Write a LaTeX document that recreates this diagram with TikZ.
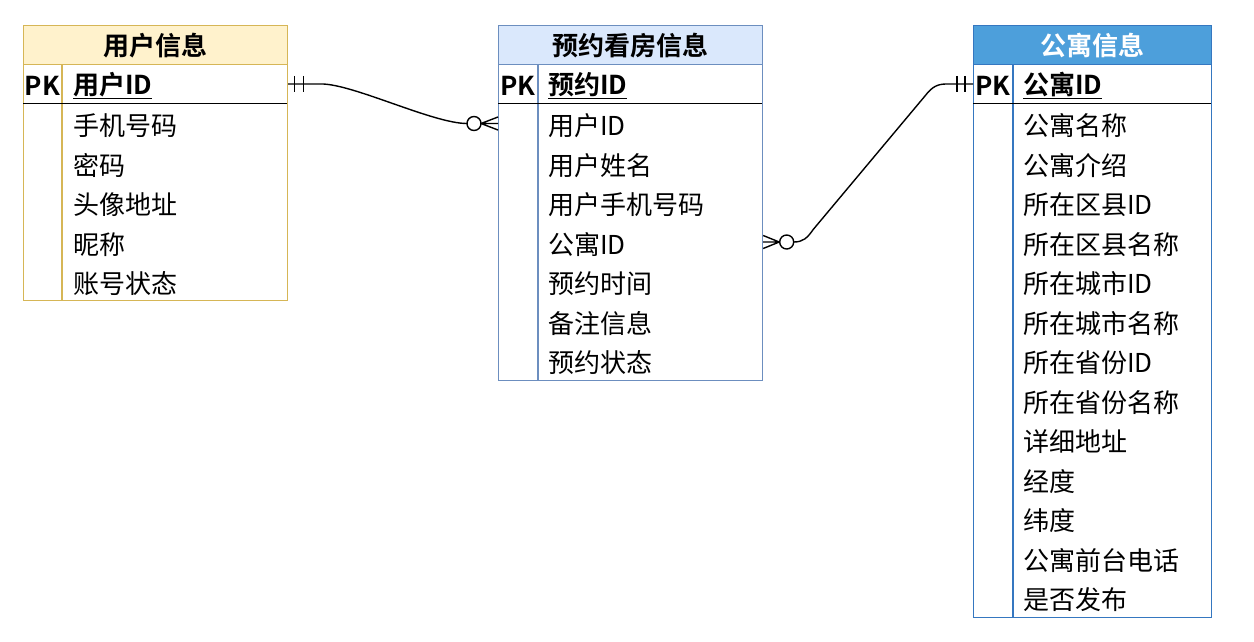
\documentclass[tikz,border=0pt]{standalone}
\usepackage{fontspec}
\setmainfont{Noto Sans CJK SC}[BoldFont={Noto Sans CJK SC Bold}]
\usetikzlibrary{calc}
\definecolor{yfill}{HTML}{FFF2CC}
\definecolor{ydraw}{HTML}{D6B656}
\definecolor{bfill}{HTML}{DAE8FC}
\definecolor{bdraw}{HTML}{6C8EBF}
\definecolor{dfill}{HTML}{4D9FDB}
\definecolor{ddraw}{HTML}{3577C0}
\tikzset{
  tbl/.style={line width=1.2pt, inner sep=0pt, anchor=north west},
  hdr/.style={line width=1.2pt, inner sep=0pt, anchor=north west, minimum height=39pt, font=\fontsize{26}{30}\selectfont\bfseries},
  pkrow/.style={inner sep=0pt, anchor=north west, minimum height=39.5pt},
  pkst/.style={inner sep=0pt, font=\fontsize{26}{30}\selectfont\bfseries},
  keyst/.style={inner sep=0pt, anchor=west, font=\fontsize{26}{30}\selectfont\bfseries},
  fld/.style={inner sep=0pt, anchor=west, font=\fontsize{26}{30}\selectfont},
  rel/.style={line width=1.4pt, black},
  sepline/.style={line width=1.4pt, black},
}
\begin{document}
\begin{tikzpicture}[x=1pt,y=-1pt]
\fill[white] (0,0) rectangle (1254,641);
\useasboundingbox (0,0) rectangle (1254,641);

% ---------- table 1 ----------
\node[tbl, draw=ydraw, minimum width=264pt, minimum height=275pt] (user) at (23,25) {};
\node[hdr, fill=yfill, draw=ydraw, minimum width=264pt] (user-h) at (23,25) {用户信息};
\node[pkrow, minimum width=264pt] (user-pk) at (23,64) {};
\draw[ydraw, line width=1.2pt] (62,64) -- (62,300);
\draw[sepline] (23,103.5) -- (287,103.5);
\node[pkst] (user-pkl) at (42.5,85.5) {PK};
\node[keyst] (user-pkn) at (73,85.5) {\underline{用户ID}};
\foreach \t [count=\i from 0] in {手机号码,密码,头像地址,昵称,账号状态}
  \node[fld] (u-r\i) at (73,{126+39.5*\i}) {\t};

% ---------- table 2 ----------
\node[tbl, draw=bdraw, minimum width=264pt, minimum height=355pt] (book) at (498,25) {};
\node[hdr, fill=bfill, draw=bdraw, minimum width=264pt] (book-h) at (498,25) {预约看房信息};
\node[pkrow, minimum width=264pt] (book-pk) at (498,64) {};
\draw[bdraw, line width=1.2pt] (538,64) -- (538,380);
\draw[sepline] (498,103.5) -- (762,103.5);
\node[pkst] (book-pkl) at (518,85.5) {PK};
\node[keyst] (book-pkn) at (548,85.5) {\underline{预约ID}};
\foreach \t [count=\i from 0] in {用户ID,用户姓名,用户手机号码,公寓ID,预约时间,备注信息,预约状态}
  \node[fld] (b-r\i) at (548,{126+39.5*\i}) {\t};

% ---------- table 3 ----------
\node[tbl, draw=ddraw, minimum width=238pt, minimum height=592pt] (apt) at (973,25) {};
\node[hdr, fill=dfill, draw=ddraw, text=white, minimum width=238pt] (apt-h) at (973,25) {公寓信息};
\node[pkrow, minimum width=238pt] (apt-pk) at (973,64) {};
\draw[ddraw, line width=1.2pt] (1013,64) -- (1013,617);
\draw[sepline] (973,103.5) -- (1211,103.5);
\node[pkst] (apt-pkl) at (993,85.5) {PK};
\node[keyst] (apt-pkn) at (1023,85.5) {\underline{公寓ID}};
\foreach \t [count=\i from 0] in {公寓名称,公寓介绍,所在区县ID,所在区县名称,所在城市ID,所在城市名称,所在省份ID,所在省份名称,详细地址,经度,纬度,公寓前台电话,是否发布}
  \node[fld] (a-r\i) at (1023,{126+39.5*\i}) {\t};

% ---------- connector 1: user (1) -- (0..n) booking ----------
\path (user.east |- user-pk) coordinate (p1)
      ([yshift=2.5pt]book.west |- b-r0) coordinate (p2);
\draw[rel] (p1) -- ($(p1)+(33,0)$) .. controls ($(p1)+(65,0)$) and ($(p2)+(-65,0)$) .. ($(p2)+(-31,0)$);
\draw[rel] ($(p1)+(6,-8)$) -- ($(p1)+(6,8)$);
\draw[rel] ($(p1)+(15,-8)$) -- ($(p1)+(15,8)$);
\draw[rel, fill=white] ($(p2)+(-24,0)$) circle (7pt);
\draw[rel] ($(p2)+(-17,0)$) -- ($(p2)+(0,-6.5)$)
           ($(p2)+(-17,0)$) -- (p2)
           ($(p2)+(-17,0)$) -- ($(p2)+(0,6.5)$);

% ---------- connector 2: booking (0..n) -- (1) apartment ----------
\path ([yshift=2.5pt]book.east |- b-r3) coordinate (p3)
      (apt.west |- apt-pk) coordinate (p4);
\draw[rel] ($(p3)+(16,0)$) -- ($(p3)+(0,-6.5)$)
           ($(p3)+(16,0)$) -- (p3)
           ($(p3)+(16,0)$) -- ($(p3)+(0,6.5)$);
\draw[rel, fill=white] ($(p3)+(23.5,0)$) circle (7pt);
\draw[rel] ($(p3)+(30.5,0)$) .. controls ($(p3)+(40,0)$) and ($(p3)+(44,-4)$) .. ($(p3)+(50,-12.5)$)
           -- ($(p4)+(-48,12)$) .. controls ($(p4)+(-41,3)$) and ($(p4)+(-36,0)$) .. ($(p4)+(-26,0)$) -- (p4);
\draw[rel] ($(p4)+(-16,-8)$) -- ($(p4)+(-16,8)$);
\draw[rel] ($(p4)+(-8,-8)$) -- ($(p4)+(-8,8)$);
\end{tikzpicture}
\end{document}
